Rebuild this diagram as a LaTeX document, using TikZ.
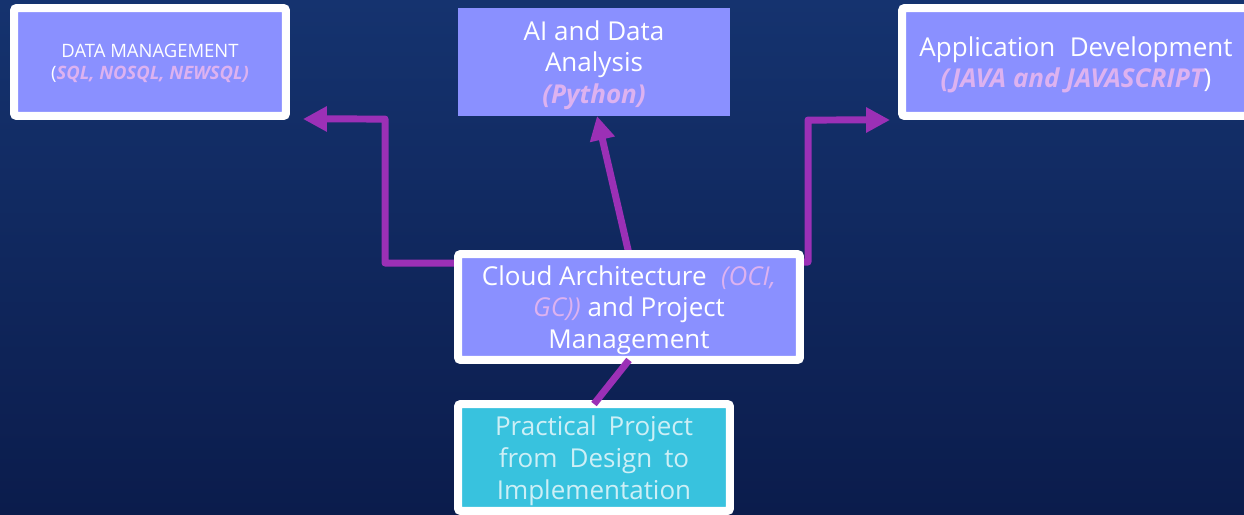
\documentclass[tikz,border=0pt]{standalone}
\usepackage{fontspec}
\setmainfont{Open Sans}
\usetikzlibrary{arrows.meta,calc}

\definecolor{bgtop}{HTML}{15336F}
\definecolor{bgbot}{HTML}{0B1C4C}
\definecolor{boxfill}{HTML}{8A90FF}
\definecolor{tagpink}{HTML}{DDB2F0}
\definecolor{flowpurple}{HTML}{9B30B6}
\definecolor{pracfill}{HTML}{38C2DE}
\definecolor{practext}{HTML}{CDEFF6}

\pgfdeclarelayer{back}
\pgfdeclarelayer{lines}
\pgfsetlayers{back,lines,main}

\newcommand{\langtag}[1]{{\color{tagpink}\bfseries\itshape #1}}
\newcommand{\softtag}[1]{{\color{tagpink}\itshape #1}}

\tikzset{
  topic/.style={fill=boxfill, text=white, align=center, inner sep=0pt,
                outer sep=0pt, text depth=-4pt,
                font=\fontsize{14.8}{18}\selectfont},
  framed/.style={topic, draw=white, line width=0.16cm, rounded corners=1.5pt},
  flow/.style={draw=flowpurple, line width=0.14cm, line join=round,
               -{Triangle[length=0.48cm,width=0.48cm]}},
  link/.style={draw=flowpurple, line width=0.14cm}
}

\begin{document}
\begin{tikzpicture}[x=0.02cm, y=-0.02cm]
  \useasboundingbox (0,0) rectangle (1244,514);
  \clip (0,0) rectangle (1244,514);
  \begin{pgfonlayer}{back}
    \shade[top color=bgtop, bottom color=bgbot] (0,0) rectangle (1244,514);
  \end{pgfonlayer}

  % topic boxes
  \node[framed, minimum width=5.44cm, minimum height=2.16cm, text depth=-0.5pt,
        font=\fontsize{10.5}{12.5}\selectfont] (dm) at (150,62)
        {DATA MANAGEMENT\\(\langtag{SQL, NOSQL, NEWSQL)}};
  \node[topic, minimum width=5.44cm, minimum height=2.16cm] (ai) at (594,62)
        {AI and Data\\Analysis\\\langtag{(Python)}};
  \node[framed, minimum width=6.96cm, minimum height=2.16cm] (app) at (1076,62)
        {Application\hspace{0.3em} Development\\\langtag{(JAVA and JAVASCRIPT}{\color{white})}};
  \node[framed, minimum width=6.84cm, minimum height=2.12cm] (cloud) at (629,307)
        {Cloud Architecture\hspace{0.3em} \softtag{(OCI,}\\\softtag{GC))} and Project\\Management};
  \node[framed, fill=pracfill, text=practext, minimum width=5.44cm,
        minimum height=2.14cm] (prac) at (594,457.5)
        {Practical\hspace{0.2em} Project\\from\hspace{0.2em} Design\hspace{0.2em} to\\Implementation};

  % connectors
  \coordinate (lbend) at (385,119);
  \coordinate (rbend) at (808,120);
  \begin{pgfonlayer}{lines}
    \draw[flow] ([yshift=-0.18cm]cloud.north west) -| (lbend)
                -- ([shift={(0.34cm,-0.06cm)}]dm.south east);
    \draw[flow] (cloud.north) -- ([xshift=0.06cm]ai.south);
    \draw[flow] ([yshift=-0.16cm]cloud.north east) -| (rbend)
                -- ([shift={(-0.24cm,-0.08cm)}]app.south west);
  \end{pgfonlayer}
  \draw[link] (cloud.south) -- (prac.north);
\end{tikzpicture}
\end{document}
